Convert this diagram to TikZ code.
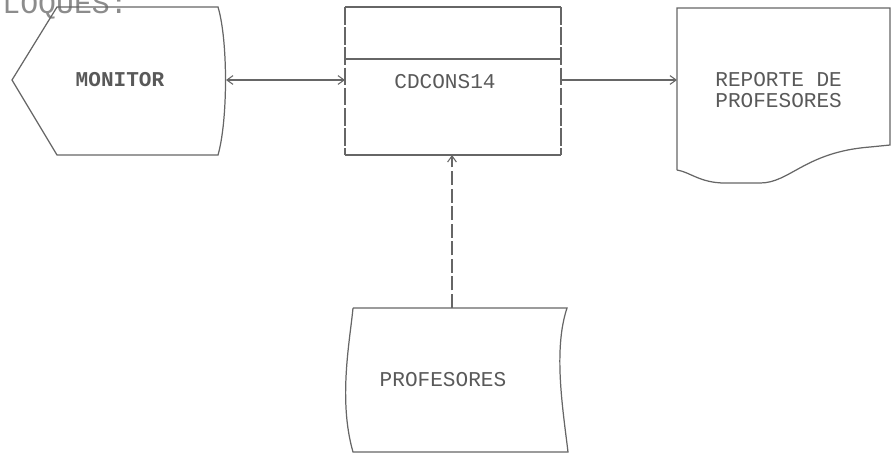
\documentclass[tikz,border=0pt]{standalone}
\usepackage{fontspec}
\setmonofont{Liberation Mono}
\usetikzlibrary{arrows.meta}

\begin{document}
\begin{tikzpicture}[x=0.02cm,y=-0.02cm,
  shp/.style={draw=black!60,line width=0.7pt},
  brk/.style={shp,dash pattern=on 10pt off 1.5pt},
  lbl/.style={text=black!65,font=\ttfamily\fontsize{12}{11.5}\selectfont,inner sep=0pt},
  flow/.style={draw=black!60,line width=0.6pt,-{Straight Barb[length=3.5pt,width=5pt]}}]
\useasboundingbox (0,0) rectangle (891,454);

% title, cut at the top
\node[anchor=base west,inner sep=0pt,text=black!45,font=\ttfamily\fontsize{17}{17}\selectfont] (ttl) at (2,13) {LOQUES:};

% monitor
\draw[shp] (57,7) -- (218,7) .. controls (228,40) and (228,120) .. (218,155) -- (57,155) -- (12,80) -- cycle;
\node[lbl,font=\ttfamily\bfseries\fontsize{12}{11.5}\selectfont] (mon) at (120,80) {MONITOR};
\coordinate (monR) at (226,80);

% process
\draw[shp] (345,7) -- (561,7);
\draw[shp] (345,59) -- (561,59);
\draw[shp] (345,155) -- (561,155);
\draw[brk] (345,7) -- (345,155);
\draw[brk] (561,7) -- (561,155);
\node[lbl] (cd) at (445,82) {CDCONS14};
\coordinate (cdL) at (345,80);
\coordinate (cdR) at (561,80);
\coordinate (cdB) at (452,155);

% report
\draw[shp] (677,170) -- (677,8) -- (890,8) -- (890,145) -- (870,147)
  .. controls (805,152) and (790,183) .. (760,183) -- (725,183)
  .. controls (700,183) and (690,172) .. (677,170);
\node[lbl,anchor=west,align=left] (rep) at (715,90) {REPORTE DE\\PROFESORES};
\coordinate (repL) at (677,80);

% data file
\draw[shp] (353,308) -- (567,308) .. controls (553,350) and (563,410) .. (568,452)
  -- (353,452) .. controls (338,400) and (350,340) .. (353,308);
\node[lbl] (prf) at (443,380) {PROFESORES};
\coordinate (prfT) at (452,308);

% flows
\draw[flow,{Straight Barb[length=3.5pt,width=5pt]}-{Straight Barb[length=3.5pt,width=5pt]}] (monR) -- (cdL);
\draw[flow] (cdR) -- (repL);
\draw[flow,dash pattern=on 8pt off 2pt] (prfT) -- (cdB);
\end{tikzpicture}
\end{document}
